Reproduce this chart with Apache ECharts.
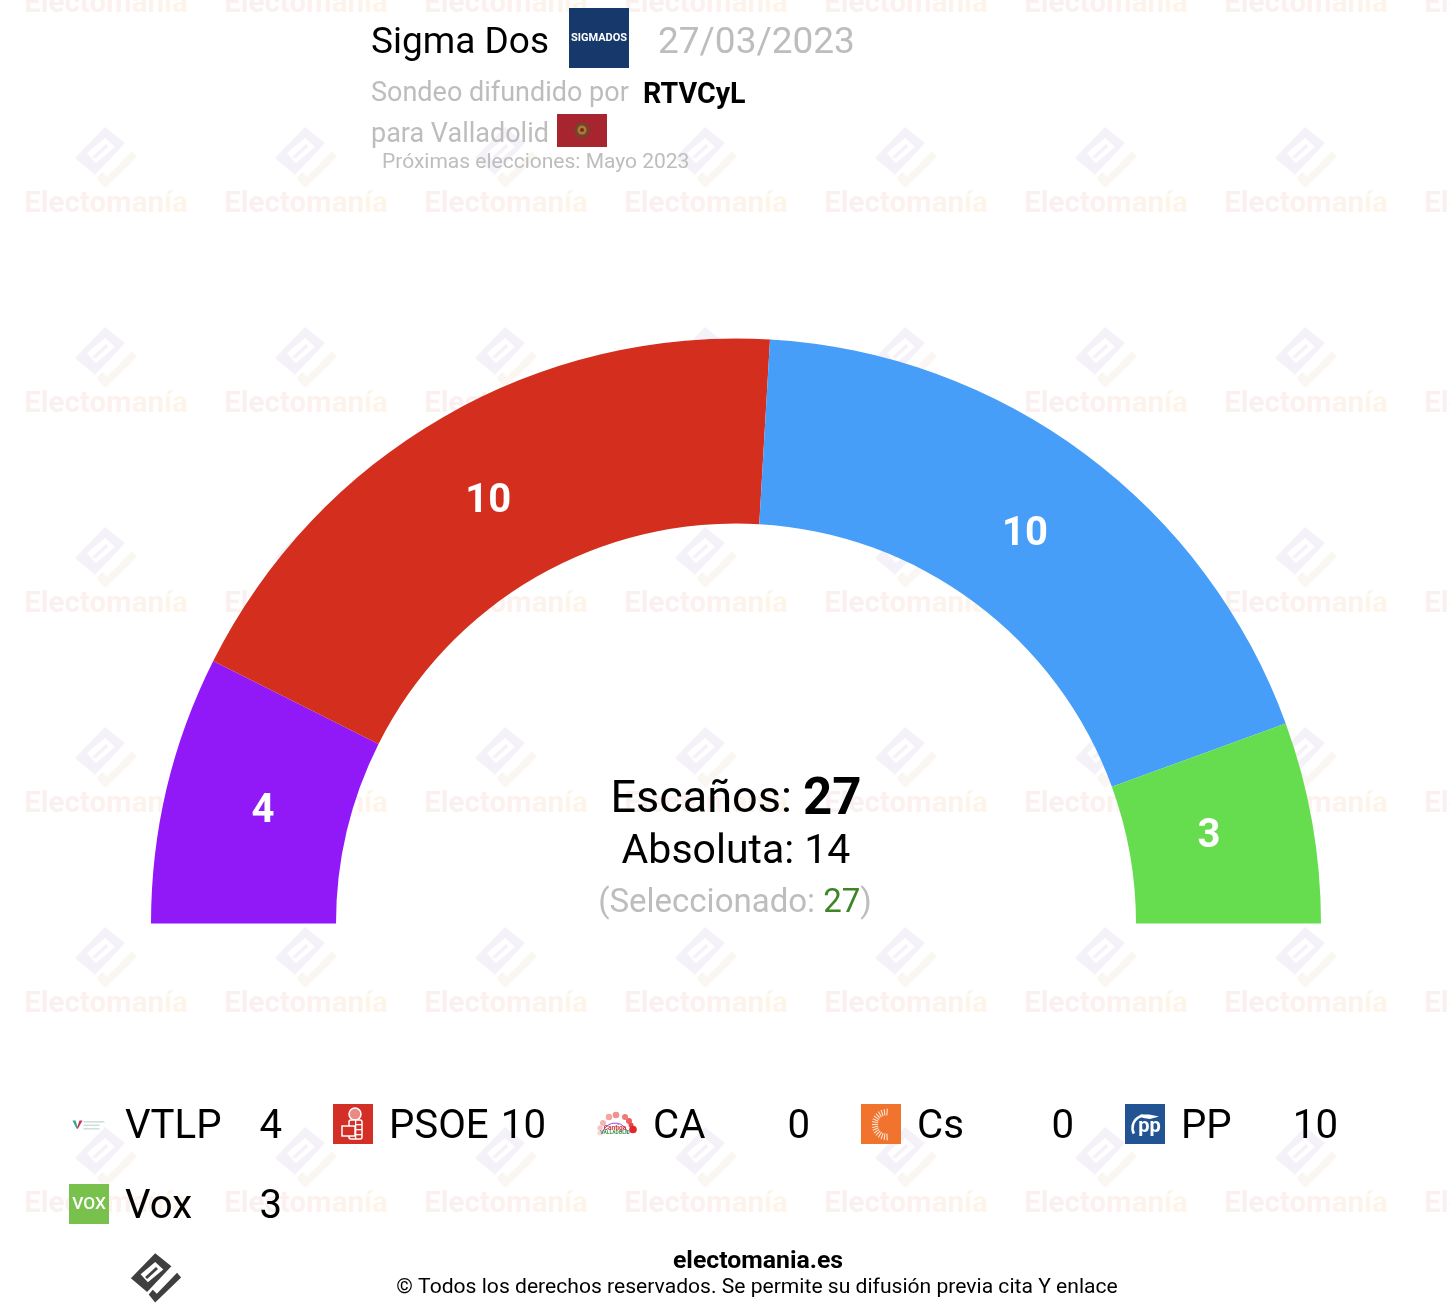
<!DOCTYPE html>
<html>
<head>
<meta charset="utf-8">
<style>html,body{margin:0;padding:0;background:#fff}#c{width:1450px;height:1316px}</style>
<script src="https://cdn.jsdelivr.net/npm/echarts@6/dist/echarts.min.js"></script>
</head>
<body>
<div id="c"></div>
<script>
const parties = ['VTLP','PSOE','CA','Cs','PP','Vox'];
const seats = [4,10,0,0,10,3];
const partyColors = ['#9119F8','#D42F1E','#F08A8A','#F0742E','#479EF9','#66DD4E'];
const totalSeats = 27, majority = 14, selected = 27;
const pollster = 'Sigma Dos', pollDate = '27/03/2023', sponsor = 'RTVCyL';
const FONT = 'Roboto';

const chart = echarts.init(document.getElementById('c'), null, {renderer:'canvas', width:1450, height:1316});
const g = [];
const txt = (x,y,text,size,fill,extra={}) => g.push({type:'text',x,y:y+size*0.08,z:extra.z||5,silent:true,style:Object.assign({text,fill,font:`${extra.weight||'normal'} ${size}px ${FONT}`,textAlign:extra.align||'left',textVerticalAlign:'middle'},extra.style||{})});
const poly = (pts,fill,z,extra={}) => g.push(Object.assign({type:'polygon',z,silent:true,shape:{points:pts},style:{fill}},extra));
const rect = (x,y,w,h,fill,z=3) => g.push({type:'rect',z,silent:true,shape:{x,y,width:w,height:h},style:{fill}});
const circ = (cx,cy,r,fill,z=4) => g.push({type:'circle',z,silent:true,shape:{cx,cy,r},style:{fill}});

// Electomanía brand mark, relative to its centre at scale 1
function mark(cx,cy,s,c1,c2,c3,z){
  const t = a => a.map(p=>[cx+p[0]*s,cy+p[1]*s]);
  poly(t([[-1,-30],[19,-14],[-11,18],[-31,1]]),c1,z);
  poly(t([[-9,21],[-4,15],[1,20],[26,-6],[31,0],[-1,31]]),c2,z);
  poly(t([[-1,-19],[9,-10],[-10,6],[-19,-4]]),c3,z);
  poly(t([[0,-13],[2.5,-10.5],[-11,2],[-13.5,-0.5]]),c1,z);
}
// watermark tiling
const wmRich = {a:{font:`bold 29.5px ${FONT}`,fill:'#FBF0F0'},b:{font:`bold 29.5px ${FONT}`,fill:'#FCF1EE'},c:{font:`bold 29.5px ${FONT}`,fill:'#FCF3EC'},d:{font:`bold 29.5px ${FONT}`,fill:'#FDF5EA'}};
for(let col=0;col<8;col++){
  for(let row=0;row<7;row++){
    const x=106+200*col;
    g.push({type:'text',x,y:5+200*row,z:0,silent:true,style:{text:'{a|Elec}{b|tom}{c|an}{d|ía}',textAlign:'center',textVerticalAlign:'middle',rich:wmRich}});
    if(row<6) mark(x,157+200*row,1,'#F5F1F9','#FAF6F2','#FFFFFF',0);
  }
}
mark(156,1277.5,0.81,'#3F3F3F','#3F3F3F','#FFFFFF',4);

// header
txt(371,41,pollster,37,'#000');
rect(569,8,60,60,'#17386A');
txt(599,37,'SIGMADOS',11,'#fff',{weight:'bold',align:'center'});
txt(658,41,pollDate,37,'#BDBDBD');
txt(371,92.5,'Sondeo difundido por',27,'#BDBDBD');
txt(643,93.5,sponsor,28.6,'#000',{weight:'bold'});
txt(371,133,'para Valladolid',27,'#BDBDBD');
rect(557,114,50,33,'#A6252E');
circ(582,130,7.5,'#6B4A2A'); circ(582,130,4.5,'#B5763A'); circ(582,130,2,'#7A2A20');
txt(382,161.5,'Próximas elecciones: Mayo 2023',21,'#BDBDBD');

// centre
g.push({type:'text',x:736,y:801,z:5,silent:true,style:{text:'{a|Escaños: }{b|'+totalSeats+'}',textAlign:'center',textVerticalAlign:'middle',
  rich:{a:{font:`45px ${FONT}`,fill:'#000'},b:{font:`bold 51px ${FONT}`,fill:'#000'}}}});
txt(736,849,'Absoluta: '+majority,41,'#000',{align:'center'});
g.push({type:'text',x:735,y:904,z:5,silent:true,style:{text:'{a|(Seleccionado: }{b|'+selected+'}{c|)}',textAlign:'center',textVerticalAlign:'middle',
  rich:{a:{font:`33px ${FONT}`,fill:'#BDBDBD'},b:{font:`33px ${FONT}`,fill:'#3D8526'},c:{font:`33px ${FONT}`,fill:'#BDBDBD'}}}});

// legend icons
function icon(name,x,y){
  if(name==='VTLP'){
    poly([[x+3.5,y+16.5],[x+6.5,y+16.5],[x+9,y+24.5],[x+7.5,y+24.5]],'#2FA58E',3);
    poly([[x+10.5,y+16.5],[x+13.5,y+16.5],[x+9,y+24.5],[x+7.8,y+24.5]],'#C7344F',3);
    rect(x+14.5,y+17,21,1.6,'#CFE0DB'); rect(x+14.5,y+20.5,16,1.6,'#CFE0DB'); rect(x+14.5,y+24,16,1.6,'#CFE0DB');
  } else if(name==='PSOE'){
    rect(x,y,40,40,'#D32F27');
    g.push({type:'circle',z:4,silent:true,shape:{cx:x+22,cy:y+10,r:6},style:{fill:'#E98A84',stroke:'#fff',lineWidth:1.5}});
    g.push({type:'rect',z:4,silent:true,shape:{x:x+16,y:y+16,width:13,height:19,r:2},style:{fill:'#D32F27',stroke:'#fff',lineWidth:1.5}});
    g.push({type:'rect',z:4,silent:true,shape:{x:x+9,y:y+22,width:13,height:10},style:{fill:'#D32F27',stroke:'#fff',lineWidth:1.5}});
    rect(x+22,y+20,7,1.3,'#fff',4); rect(x+22,y+25,7,1.3,'#fff',4); rect(x+22,y+30,7,1.3,'#fff',4); rect(x+22,y+16,1.3,19,'#fff',4);
  } else if(name==='CA'){
    [[3,29,2.5,'#F8D5D5'],[3,24,2.7,'#F6C7C7'],[6,19,3,'#F4B5B5'],[12,13,3.2,'#F2A5A5'],[19,11,3.3,'#F09090'],[28,13,3,'#EE7A7A'],[32,17,3,'#EC6060'],[34,21,2.5,'#E84545'],[36,25.5,3.8,'#E3262C']].forEach(p=>circ(x+p[0],y+p[1],p[2],p[3]));
    g.push({type:'arc',z:4,silent:true,shape:{cx:x+18,cy:y+32,r:13,startAngle:Math.PI*1.05,endAngle:Math.PI*1.95},style:{fill:'#fff',stroke:'#A04CD8',lineWidth:1}});
    txt(x+18,y+23.5,'Cantiga',6.5,'#C9303A',{align:'center',weight:'bold'});
    txt(x+18,y+28,'VALLADOLID',5,'#3C9A4A',{align:'center',weight:'bold'});
  } else if(name==='Cs'){
    rect(x,y,40,40,'#F0742E');
    for(let i=0;i<17;i++){
      const d=Math.abs(i-8), a=(85+i*190/16)*Math.PI/180, r0=8+d*0.15, r1=14+d*0.22;
      g.push({type:'line',z:4,silent:true,shape:{x1:x+25+Math.cos(a)*r0,y1:y+20.5-Math.sin(a)*r0,x2:x+25+Math.cos(a)*r1,y2:y+20.5-Math.sin(a)*r1},style:{stroke:'#FCE6D8',lineWidth:1.1}});
    }
  } else if(name==='PP'){
    rect(x,y,40,40,'#225493');
    txt(x+24.5,y+21,'pp',20,'#fff',{align:'center',weight:'bold'});
    g.push({type:'arc',z:4,silent:true,shape:{cx:x+20,cy:y+24,r:12.5,startAngle:Math.PI*0.85,endAngle:Math.PI*1.45},style:{fill:'none',stroke:'#fff',lineWidth:2.5}});
    poly([[x+15,y+10.5],[x+24,y+10.5],[x+34,y+12.5],[x+25,y+15],[x+18,y+14]],'#fff',4);
  } else if(name==='Vox'){
    rect(x,y,40,40,'#77C14C');
    txt(x+20,y+19,'VOX',17.3,'#fff',{align:'center',weight:'500'});
  }
}
// legend
parties.forEach((p,i)=>{
  const x=69+264*(i%5), y=1104+80*Math.floor(i/5);
  icon(p,x,y);
  txt(x+56,y+21,p,40.2,'#000');
  txt(x+213,y+21,String(seats[i]),40.2,'#000',{align:'right'});
});

// footer
txt(758,1259.5,'electomania.es',24.8,'#000',{align:'center',weight:'bold'});
txt(757,1286,'© Todos los derechos reservados. Se permite su difusión previa cita Y enlace',21.1,'#000',{align:'center'});

const hidden = seats.reduce((a,b)=>a+b,0);
const labelNudge = {VTLP:[9,3],PSOE:[0,8],PP:[-7,9],Vox:[-15,0]};
chart.setOption({
  animation:false,
  backgroundColor:'#fff',
  textStyle:{fontFamily:FONT},
  graphic:{elements:g},
  series:[{
    type:'pie',z:2,silent:true,
    center:[736,923.5],radius:[400,585],
    startAngle:180,clockwise:true,
    avoidLabelOverlap:false,
    label:{show:true,position:'inside',color:'#fff',fontFamily:FONT,fontWeight:'bold',fontSize:40,
      formatter:p=>p.value>0&&p.name?String(p.value):''},
    labelLine:{show:false},
    itemStyle:{borderWidth:0},
    data:parties.map((n,i)=>({name:n,value:seats[i],itemStyle:{color:partyColors[i]},label:{offset:labelNudge[n]||[0,0]}}))
      .concat([{name:'',value:hidden,itemStyle:{color:'rgba(0,0,0,0)'},label:{show:false}}])
  }]
});
</script>
</body>
</html>
